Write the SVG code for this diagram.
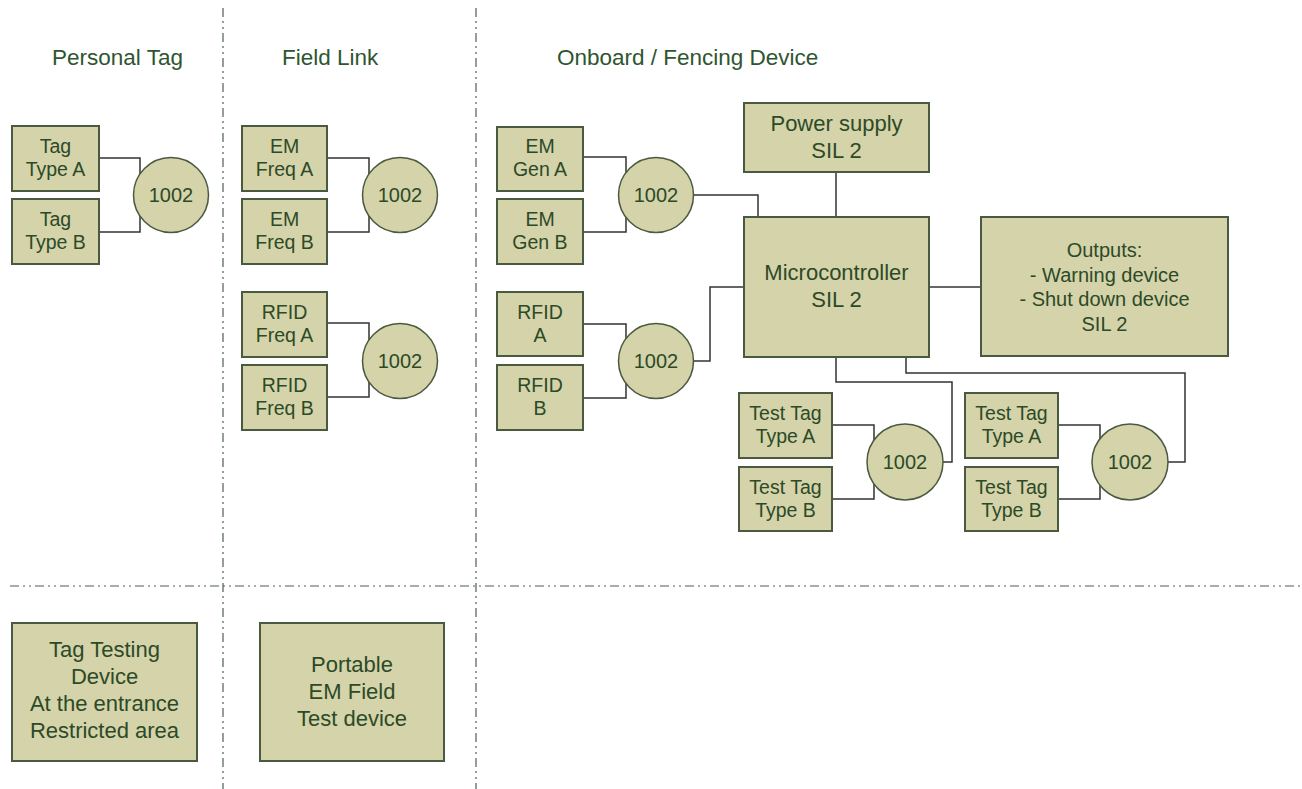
<svg xmlns="http://www.w3.org/2000/svg" width="1302" height="789" viewBox="0 0 1302 789">
<style>
.bx{fill:#d4d3aa;stroke:#4a5a40;stroke-width:2}
.cr{fill:#d4d3aa;stroke:#4a5a40;stroke-width:1.5}
.t{font-family:"Liberation Sans",Arial,sans-serif;fill:#2d4a27;text-anchor:middle}
.s{font-size:19.5px}
.m{font-size:22px}
.o{font-size:20px}
.n{font-size:20px}
.h{font-family:"Liberation Sans",Arial,sans-serif;fill:#2f5530;font-size:22.5px}
.ln{fill:none;stroke:#333;stroke-width:1.5}
.dd{fill:none;stroke:#4f5f55;stroke-width:1.2;stroke-dasharray:9 4 2 4 2 4}
</style>
<rect width="1302" height="789" fill="#fff"/>
<g id="separators">
<path class="dd" d="M223 8V789"/>
<path class="dd" d="M476 8V789"/>
<path class="dd" d="M10 586H1302"/>
</g>
<g id="headers">
<text class="h" x="52" y="65">Personal Tag</text>
<text class="h" x="282" y="65">Field Link</text>
<text class="h" x="557" y="65">Onboard / Fencing Device</text>
</g>
<g id="connectors">
<path class="ln" d="M99 158H140V178"/>
<path class="ln" d="M99 232H140V212"/>
<path class="ln" d="M327 158H369V178"/>
<path class="ln" d="M327 232H369V212"/>
<path class="ln" d="M327 323H369V344"/>
<path class="ln" d="M327 397H369V378"/>
<path class="ln" d="M583 157H626V178"/>
<path class="ln" d="M583 232H626V212"/>
<path class="ln" d="M690 195H758V217"/>
<path class="ln" d="M583 324H626V344"/>
<path class="ln" d="M583 398H626V378"/>
<path class="ln" d="M690 361H710V287H744"/>
<path class="ln" d="M836 172V217"/>
<path class="ln" d="M929 287H981"/>
<path class="ln" d="M836 357V382H952V462H940"/>
<path class="ln" d="M906 357V373H1185V462H1165"/>
<path class="ln" d="M832 425H874V444"/>
<path class="ln" d="M832 499H874V480"/>
<path class="ln" d="M1058 425H1100V444"/>
<path class="ln" d="M1058 499H1100V480"/>
</g>
<g id="tagA"><rect class="bx" x="12" y="126" width="87" height="65"/><text class="t s" x="55.5" y="153">Tag</text><text class="t s" x="55.5" y="176">Type A</text></g>
<g id="tagB"><rect class="bx" x="12" y="199" width="87" height="65"/><text class="t s" x="55.5" y="226">Tag</text><text class="t s" x="55.5" y="249">Type B</text></g>
<g id="vote1"><circle class="cr" cx="171" cy="195" r="37.5"/><text class="t n" x="171" y="202">1002</text></g>
<g id="emFreqA"><rect class="bx" x="242" y="126" width="85" height="65"/><text class="t s" x="284.5" y="153">EM</text><text class="t s" x="284.5" y="176">Freq A</text></g>
<g id="emFreqB"><rect class="bx" x="242" y="199" width="85" height="65"/><text class="t s" x="284.5" y="226">EM</text><text class="t s" x="284.5" y="249">Freq B</text></g>
<g id="vote2"><circle class="cr" cx="400" cy="195" r="37.5"/><text class="t n" x="400" y="202">1002</text></g>
<g id="rfidFreqA"><rect class="bx" x="242" y="292" width="85" height="65"/><text class="t s" x="284.5" y="319">RFID</text><text class="t s" x="284.5" y="342">Freq A</text></g>
<g id="rfidFreqB"><rect class="bx" x="242" y="365" width="85" height="65"/><text class="t s" x="284.5" y="392">RFID</text><text class="t s" x="284.5" y="415">Freq B</text></g>
<g id="vote3"><circle class="cr" cx="400" cy="361" r="37.5"/><text class="t n" x="400" y="368">1002</text></g>
<g id="emGenA"><rect class="bx" x="497" y="127" width="86" height="64"/><text class="t s" x="540" y="153">EM</text><text class="t s" x="540" y="176">Gen A</text></g>
<g id="emGenB"><rect class="bx" x="497" y="199" width="86" height="65"/><text class="t s" x="540" y="226">EM</text><text class="t s" x="540" y="249">Gen B</text></g>
<g id="vote4"><circle class="cr" cx="656" cy="195" r="37.5"/><text class="t n" x="656" y="202">1002</text></g>
<g id="rfidA"><rect class="bx" x="497" y="292" width="86" height="64"/><text class="t s" x="540" y="319">RFID</text><text class="t s" x="540" y="342">A</text></g>
<g id="rfidB"><rect class="bx" x="497" y="365" width="86" height="65"/><text class="t s" x="540" y="392">RFID</text><text class="t s" x="540" y="415">B</text></g>
<g id="vote5"><circle class="cr" cx="656" cy="361" r="37.5"/><text class="t n" x="656" y="368">1002</text></g>
<g id="power"><rect class="bx" x="744" y="103" width="185" height="69"/><text class="t m" x="836.5" y="131">Power supply</text><text class="t m" x="836.5" y="158">SIL 2</text></g>
<g id="micro"><rect class="bx" x="744" y="217" width="185" height="140"/><text class="t m" x="836.5" y="280">Microcontroller</text><text class="t m" x="836.5" y="307">SIL 2</text></g>
<g id="outputs"><rect class="bx" x="981" y="217" width="247" height="139"/><text class="t o" x="1104.5" y="257">Outputs:</text><text class="t o" x="1104.5" y="282">- Warning device</text><text class="t o" x="1104.5" y="306">- Shut down device</text><text class="t o" x="1104.5" y="331">SIL 2</text></g>
<g id="testTagA1"><rect class="bx" x="739" y="393" width="93" height="65"/><text class="t s" x="785.5" y="420">Test Tag</text><text class="t s" x="785.5" y="443">Type A</text></g>
<g id="testTagB1"><rect class="bx" x="739" y="467" width="93" height="64"/><text class="t s" x="785.5" y="494">Test Tag</text><text class="t s" x="785.5" y="517">Type B</text></g>
<g id="vote6"><circle class="cr" cx="905" cy="462" r="38"/><text class="t n" x="905" y="469">1002</text></g>
<g id="testTagA2"><rect class="bx" x="965" y="393" width="93" height="65"/><text class="t s" x="1011.5" y="420">Test Tag</text><text class="t s" x="1011.5" y="443">Type A</text></g>
<g id="testTagB2"><rect class="bx" x="965" y="467" width="93" height="64"/><text class="t s" x="1011.5" y="494">Test Tag</text><text class="t s" x="1011.5" y="517">Type B</text></g>
<g id="vote7"><circle class="cr" cx="1130" cy="462" r="38"/><text class="t n" x="1130" y="469">1002</text></g>
<g id="tagTesting"><rect class="bx" x="12" y="623" width="185" height="138"/><text class="t m" x="104.5" y="657">Tag Testing</text><text class="t m" x="104.5" y="684">Device</text><text class="t m" x="104.5" y="711">At the entrance</text><text class="t m" x="104.5" y="738">Restricted area</text></g>
<g id="portable"><rect class="bx" x="260" y="623" width="184" height="138"/><text class="t m" x="352" y="672">Portable</text><text class="t m" x="352" y="699">EM Field</text><text class="t m" x="352" y="726">Test device</text></g>
</svg>
